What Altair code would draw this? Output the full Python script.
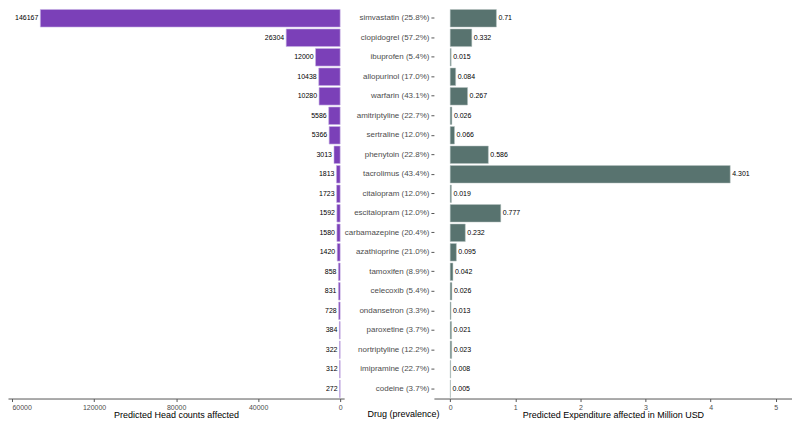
import altair as alt
import pandas as pd

drugs = ["simvastatin (25.8%)", "clopidogrel (57.2%)", "ibuprofen (5.4%)",
         "allopurinol (17.0%)", "warfarin (43.1%)", "amitriptyline (22.7%)",
         "sertraline (12.0%)", "phenytoin (22.8%)", "tacrolimus (43.4%)",
         "citalopram (12.0%)", "escitalopram (12.0%)", "carbamazepine (20.4%)",
         "azathioprine (21.0%)", "tamoxifen (8.9%)", "celecoxib (5.4%)",
         "ondansetron (3.3%)", "paroxetine (3.7%)", "nortriptyline (12.2%)",
         "imipramine (22.7%)", "codeine (3.7%)"]
head_counts = [146167, 26304, 12000, 10438, 10280, 5586, 5366, 3013, 1813, 1723,
               1592, 1580, 1420, 858, 831, 728, 384, 322, 312, 272]
expenditure = [0.71, 0.332, 0.015, 0.084, 0.267, 0.026, 0.066, 0.586, 4.301, 0.019,
               0.777, 0.232, 0.095, 0.042, 0.026, 0.013, 0.021, 0.023, 0.008, 0.005]
exp_labels = ["0.71", "0.332", "0.015", "0.084", "0.267", "0.026", "0.066", "0.586",
              "4.301", "0.019", "0.777", "0.232", "0.095", "0.042", "0.026", "0.013",
              "0.021", "0.023", "0.008", "0.005"]
head_ticks = [0, 40000, 80000, 120000, 160000]
exp_ticks = [0, 1, 2, 3, 4, 5]

df = pd.DataFrame({
    "drug": drugs,
    "head": head_counts,
    "head_label": [str(v) for v in head_counts],
    "exp": expenditure,
    "exp_label": exp_labels,
})

FONT = "Liberation Sans"
H = 391
PURPLE = "#7b40b8"
TEAL = "#58736f"
yscale = alt.Scale(paddingInner=0.1, paddingOuter=0.05)

left_base = alt.Chart(df).encode(
    y=alt.Y("drug:N", sort=drugs, scale=yscale, axis=None),
    x=alt.X("head:Q",
            scale=alt.Scale(domain=[-1945, 161945], reverse=True, nice=False, zero=False),
            axis=alt.Axis(values=head_ticks,
                          labelExpr="datum.value == 160000 ? '60000' : format(datum.value, 'd')",
                          labelAlign={"condition": {"test": "datum.value == 160000", "value": "left"},
                                      "value": "center"},
                          title="Predicted Head counts affected")),
)
left = alt.layer(
    left_base.mark_bar(color=PURPLE, stroke="#c6b0e4", strokeWidth=0.6),
    left_base.mark_text(align="right", baseline="middle", dx=-2, fontSize=7,
                        font=FONT, color="black").encode(text="head_label:N"),
).properties(width=337, height=H)

right_base = alt.Chart(df).encode(
    y=alt.Y("drug:N", sort=drugs, scale=yscale,
            axis=alt.Axis(title="Drug (prevalence)", titleAngle=0, titleX=-31,
                          titleY=H + 11, titleAlign="center", titleBaseline="top",
                          labelFontSize=8, ticks=True, tickSize=3, domain=False,
                          labelPadding=2, labelColor="#4d4d4d")),
    x=alt.X("exp:Q",
            scale=alt.Scale(domain=[-0.25, 5.25], nice=False, zero=False),
            axis=alt.Axis(values=exp_ticks, format="d",
                          title="Predicted Expenditure affected in Million USD")),
)
right = alt.layer(
    right_base.mark_bar(color=TEAL, stroke="#b8c4c2", strokeWidth=0.5),
    right_base.mark_text(align="left", baseline="middle", dx=2, fontSize=7,
                         font=FONT, color="black").encode(text="exp_label:N"),
).properties(width=359, height=H)

chart = alt.hconcat(left, right, spacing=0).properties(
    padding={"left": 0, "top": 0, "right": 0, "bottom": 0}
).configure_view(stroke=None).configure_axis(
    grid=False, labelFont=FONT, titleFont=FONT, labelFontSize=7, titleFontSize=9,
    titleFontWeight="normal", labelColor="#4d4d4d", titleColor="black",
    domainColor="#555555", tickColor="#555555", tickSize=3, labelPadding=2,
    titlePadding=0,
)

chart.save("out.html", embed_options={"renderer": "svg", "actions": False})
